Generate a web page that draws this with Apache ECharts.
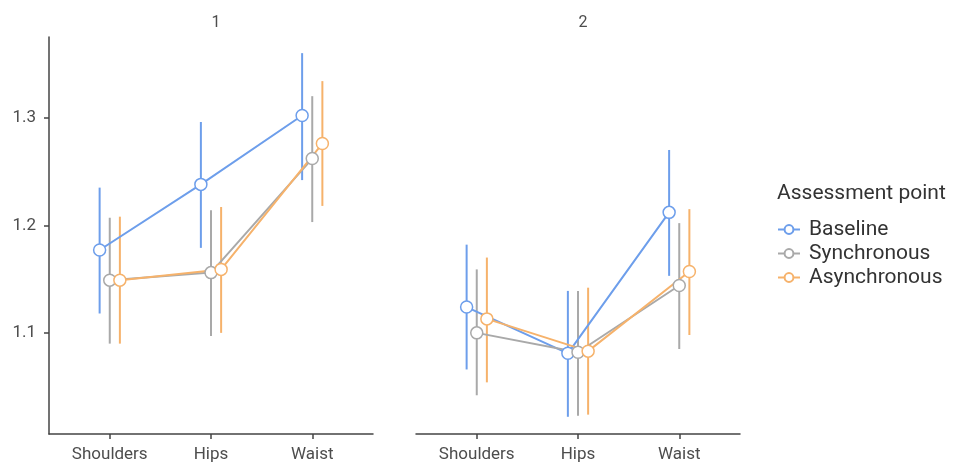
<!DOCTYPE html>
<html>
<head>
<meta charset="utf-8">
<script src="https://cdn.jsdelivr.net/npm/echarts@6/dist/echarts.min.js"></script>
<style>
html,body{margin:0;padding:0;background:#fff;}
#main{width:963px;height:465px;}
</style>
</head>
<body>
<div id="main"></div>
<script>
// categories and panels
var cats = ['Shoulders', 'Hips', 'Waist'];
var panels = ['1', '2'];
var groups = ['Baseline', 'Synchronous', 'Asynchronous'];
var colors = ['#6d9eeb', '#a9a9a9', '#f6b26b'];
var yTicks = [1.1, 1.2, 1.3];

// means, per panel, per group (Shoulders, Hips, Waist)
var mean1 = {
    Baseline:     [1.177, 1.238, 1.302],
    Synchronous:  [1.149, 1.156, 1.262],
    Asynchronous: [1.149, 1.159, 1.276]
};
var lower1 = {
    Baseline:     [1.118, 1.179, 1.242],
    Synchronous:  [1.090, 1.097, 1.203],
    Asynchronous: [1.090, 1.100, 1.218]
};
var upper1 = {
    Baseline:     [1.235, 1.296, 1.360],
    Synchronous:  [1.207, 1.214, 1.320],
    Asynchronous: [1.208, 1.217, 1.334]
};
var mean2 = {
    Baseline:     [1.124, 1.081, 1.212],
    Synchronous:  [1.100, 1.082, 1.144],
    Asynchronous: [1.113, 1.083, 1.157]
};
var lower2 = {
    Baseline:     [1.066, 1.022, 1.153],
    Synchronous:  [1.042, 1.023, 1.085],
    Asynchronous: [1.054, 1.024, 1.098]
};
var upper2 = {
    Baseline:     [1.182, 1.139, 1.270],
    Synchronous:  [1.159, 1.139, 1.202],
    Asynchronous: [1.170, 1.142, 1.215]
};

var dodge = [-0.1, 0, 0.1];
var yMin = 1.006, yMax = 1.375;
var font = 'Roboto';

var dom = document.getElementById('main');
var myChart = echarts.init(dom);

function xAxisFor(i) {
    return {
        gridIndex: i,
        type: 'value',
        min: 0.4,
        max: 3.6,
        splitLine: {show: false},
        axisLine: {lineStyle: {color: '#444', width: 1.5}},
        axisTick: {show: true, length: 5, customValues: [1, 2, 3], lineStyle: {color: '#444', width: 1.5}},
        axisLabel: {
            customValues: [1, 2, 3],
            color: '#4d4d4d',
            fontFamily: font,
            fontSize: 17,
            margin: 12,
            formatter: function (v) { return cats[Math.round(v) - 1]; }
        }
    };
}

function yAxisFor(i) {
    return {
        gridIndex: i,
        type: 'value',
        min: yMin,
        max: yMax,
        splitLine: {show: false},
        axisLine: {show: i === 0, lineStyle: {color: '#444', width: 1.5}},
        axisTick: {show: i === 0, length: 5, customValues: yTicks, lineStyle: {color: '#444', width: 1.5}},
        axisLabel: {
            show: i === 0,
            customValues: yTicks,
            color: '#4d4d4d',
            fontFamily: font,
            fontSize: 17,
            margin: 13,
            formatter: function (v) { return v.toFixed(1); }
        }
    };
}

var series = [];
var means = [mean1, mean2], lowers = [lower1, lower2], uppers = [upper1, upper2];
for (var p = 0; p < 2; p++) {
    groups.forEach(function (g, k) {
        var bars = [], pts = [];
        for (var c = 0; c < cats.length; c++) {
            var x = c + 1 + dodge[k];
            bars.push([x, lowers[p][g][c], uppers[p][g][c]]);
            pts.push([x, means[p][g][c]]);
        }
        series.push({
            type: 'custom',
            xAxisIndex: p,
            yAxisIndex: p,
            silent: true,
            z: 1,
            data: bars,
            encode: {x: 0, y: [1, 2]},
            renderItem: (function (col) {
                return function (params, api) {
                    var a = api.coord([api.value(0), api.value(1)]);
                    var b = api.coord([api.value(0), api.value(2)]);
                    return {
                        type: 'line',
                        shape: {x1: a[0], y1: a[1], x2: b[0], y2: b[1]},
                        style: {stroke: col, lineWidth: 2}
                    };
                };
            })(colors[k])
        });
        series.push({
            name: g,
            type: 'line',
            xAxisIndex: p,
            yAxisIndex: p,
            z: 2,
            data: pts,
            symbol: 'circle',
            symbolSize: 12,
            showAllSymbol: true,
            lineStyle: {color: colors[k], width: 2},
            itemStyle: {color: '#fff', borderColor: colors[k], borderWidth: 1.5},
            emphasis: {disabled: true}
        });
    });
}

var option = {
    animation: false,
    title: [
        {text: panels[0], left: 211, top: 10, textAlign: 'center',
         textStyle: {fontFamily: font, fontSize: 16, fontWeight: 'normal', color: '#4d4d4d'}},
        {text: panels[1], left: 578, top: 10, textAlign: 'center',
         textStyle: {fontFamily: font, fontSize: 16, fontWeight: 'normal', color: '#4d4d4d'}},
        {text: 'Assessment point', left: 772, top: 178,
         textStyle: {fontFamily: font, fontSize: 21, fontWeight: 'normal', color: '#333'}}
    ],
    legend: {
        data: groups,
        orient: 'vertical',
        left: 772,
        top: 214,
        itemWidth: 22,
        itemHeight: 11,
        itemGap: 3,
        textStyle: {fontFamily: font, fontSize: 21, color: '#333', padding: [0, 0, 0, 4]}
    },
    grid: [
        {left: 49, top: 37, width: 324, height: 397},
        {left: 416, top: 37, width: 324, height: 397}
    ],
    xAxis: [xAxisFor(0), xAxisFor(1)],
    yAxis: [yAxisFor(0), yAxisFor(1)],
    series: series
};
myChart.setOption(option);
</script>
</body>
</html>
